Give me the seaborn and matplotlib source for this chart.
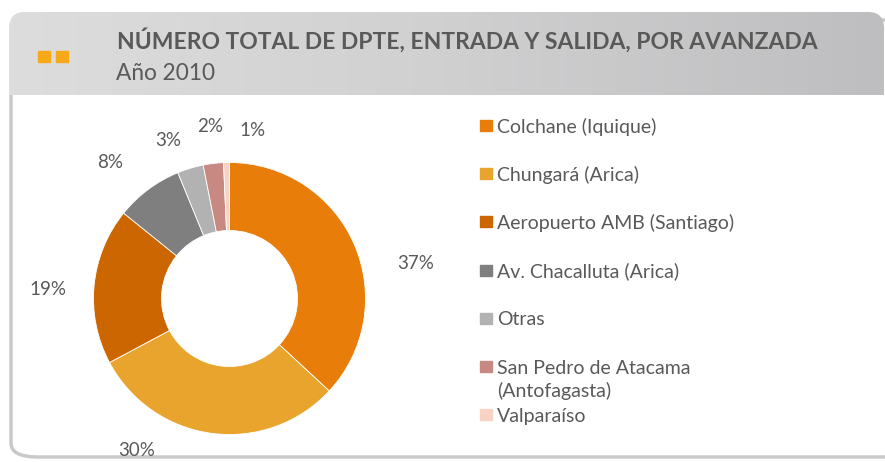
import numpy as np
import seaborn as sns
import matplotlib.pyplot as plt
from matplotlib.patches import FancyBboxPatch, Rectangle
from matplotlib.colors import LinearSegmentedColormap

# Data
avanzadas = ['Colchane (Iquique)', 'Chungará (Arica)', 'Aeropuerto AMB (Santiago)',
             'Av. Chacalluta (Arica)', 'Otras', 'San Pedro de Atacama\n(Antofagasta)',
             'Valparaíso']
porcentajes = [36.9, 30.3, 18.6, 8.0, 3.1, 2.4, 0.7]
etiquetas = ['37%', '30%', '19%', '8%', '3%', '2%', '1%']
colores = ['#e97d0a', '#e9a42d', '#cc6600', '#7f7f7f', '#b2b2b2', '#c98983', '#f8d2c3']

titulo = 'NÚMERO TOTAL DE DPTE, ENTRADA Y SALIDA, POR AVANZADA'
subtitulo = 'Año 2010'

sns.set_theme(style='white')
plt.rcParams['font.family'] = ['Lato', 'DejaVu Sans']
txt = '#595959'

W, H = 885, 462
fig = plt.figure(figsize=(W / 100, H / 100), dpi=100)
fig.patch.set_facecolor('white')


def fx(x):
    return x / W


def fy(y):
    return 1 - y / H


# card border
card = FancyBboxPatch((fx(11), fy(457)), fx(900), fy(20) - fy(457),
                      boxstyle='round,pad=0,rounding_size=0.03',
                      transform=fig.transFigure, facecolor='white',
                      edgecolor='#c9c9c9', linewidth=2.5, zorder=0)
fig.patches.append(card)

# header with gradient (axes in pixel units)
hw, hh = 875, 83
hax = fig.add_axes([fx(9), fy(95), hw / W, hh / H], zorder=1)
hax.axis('off')
cmap = LinearSegmentedColormap.from_list('hdr', ['#dddddd', '#d0d0d1', '#bebec0'])
grad = np.linspace(0, 1, 256).reshape(1, -1)
im = hax.imshow(grad, extent=[0, hw, 0, hh], aspect='auto', cmap=cmap)
hax.set_xlim(0, hw)
hax.set_ylim(0, hh)
clip = FancyBboxPatch((0, -30), hw, hh + 30, boxstyle='round,pad=0,rounding_size=16',
                      facecolor='none', edgecolor='none')
hax.add_patch(clip)
im.set_clip_path(clip)

for x0 in (38, 56):
    fig.patches.append(Rectangle((fx(x0), fy(62)), fx(12), fy(51) - fy(62),
                                 transform=fig.transFigure, color='#f7a91a', zorder=3))
fig.text(fx(117), fy(49), titulo, fontsize=16.5, fontweight='bold', color=txt,
         va='baseline', ha='left', zorder=4)
fig.text(fx(116), fy(80), subtitulo, fontsize=16.3, color=txt, va='baseline', ha='left',
         zorder=4)

# donut
R = 136
cx, cy = 229.5, 298.5
ax = fig.add_axes([fx(cx - 1.5 * R), fy(cy + 1.5 * R), 3 * R / W, 3 * R / H], zorder=2)
ax.set_facecolor('none')
wedges, _ = ax.pie(porcentajes, colors=colores, startangle=90, counterclock=False,
                   radius=1, wedgeprops=dict(width=0.5, edgecolor='white', linewidth=0.6))
ax.set_xlim(-1.5, 1.5)
ax.set_ylim(-1.5, 1.5)
ax.set_aspect('equal')
ax.axis('off')

# label placement tweaks (angle nudge in degrees, radial distance)
ajuste_ang = [-13, -24, 2.7, 4.5, 4.5, -0.3, -9]
dist = [1.39, 1.31, 1.34, 1.33, 1.25, 1.27, 1.25]
for w, lab, da, d in zip(wedges, etiquetas, ajuste_ang, dist):
    ang = np.deg2rad((w.theta1 + w.theta2) / 2 + da)
    ax.text(d * np.cos(ang), d * np.sin(ang), lab, ha='center', va='center',
            fontsize=13.5, color=txt, clip_on=False)

# legend
for i, (nombre, c) in enumerate(zip(avanzadas, colores)):
    yc = 125.5 + i * 48.2
    fig.patches.append(Rectangle((fx(480), fy(yc + 5.5)), fx(12), fy(yc - 5.5) - fy(yc + 5.5),
                                 transform=fig.transFigure, color=c, zorder=3))
    for k, linea in enumerate(nombre.split('\n')):
        fig.text(fx(497), fy(yc + 7 + k * 24), linea, fontsize=14, color=txt,
                 va='baseline', ha='left', zorder=4)

fig.savefig('out.png', dpi=100)
